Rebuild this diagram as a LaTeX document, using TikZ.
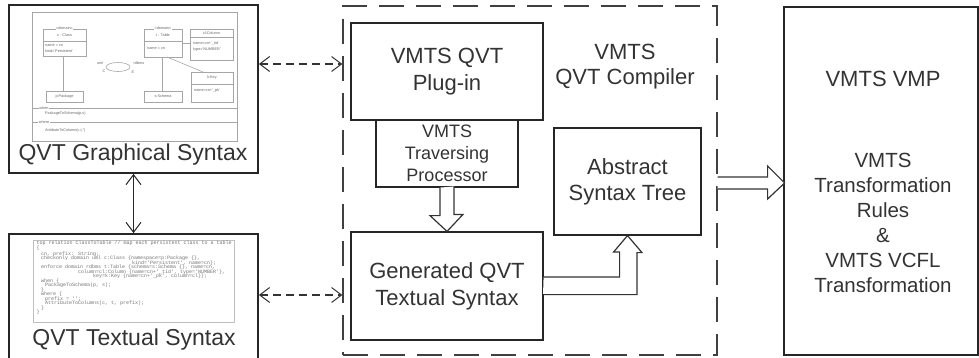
\documentclass[tikz,border=0pt]{standalone}
\usepackage{fontspec}
\setmainfont{Liberation Sans}
\newfontfamily\codefont{Liberation Mono}
\usetikzlibrary{arrows.meta,calc}
\begin{document}
\begin{tikzpicture}[x=1pt,y=-1pt,
  box/.style={draw=black!85, line width=1.2pt, inner sep=0pt, align=center, text=black!80, font=\fontsize{22}{27}\selectfont},
  bigbox/.style={box, line width=1.7pt},
  lbl/.style={inner sep=0pt, align=center, text=black!80, font=\fontsize{22}{27}\selectfont},
  hollow/.style={draw=black!80, line width=1.2pt, fill=white, line join=miter},
  barb/.style={{Straight Barb[length=10pt,width=15pt,line width=1pt]}-{Straight Barb[length=10pt,width=15pt,line width=1pt]}},
  dasharrow/.style={barb, draw=black!80, line width=1.1pt, dash pattern=on 8pt off 5pt},
  solidarrow/.style={barb, draw=black!85, line width=1.3pt},
  thumb/.style={draw=black!35, line width=0.6pt},
  tiny/.style={font=\fontsize{3.8}{4.2}\selectfont, text=black!60, inner sep=0pt},
  code/.style={font=\codefont\fontsize{5}{5}\selectfont, text=black!55, inner sep=0pt, anchor=west}
]
\useasboundingbox (0,0) rectangle (979,358);

% ---------- main boxes ----------
\node[bigbox, minimum width=249pt, minimum height=168pt] (gsyn) at (133.5,89) {};
\node[bigbox, minimum width=249pt, minimum height=136pt] (tsyn) at (133.5,302) {};
\node[box, draw=black!75, dash pattern=on 25pt off 12pt, minimum width=374pt, minimum height=349pt] (comp) at (530,180.5) {};
\node[box, minimum width=192pt, minimum height=97pt] (plugin) at (447,71.5) {VMTS QVT\\Plug-in};
\node[box, minimum width=142pt, minimum height=67pt, font=\fontsize{18}{22}\selectfont] (trav) at (447,153.5) {VMTS\\Traversing\\Processor};
\node[box, minimum width=192pt, minimum height=108pt] (gen) at (447,286) {Generated QVT\\Textual Syntax};
\node[box, minimum width=147pt, minimum height=107pt, font=\fontsize{22}{26}\selectfont] (ast) at (627.5,181.5) {Abstract\\Syntax Tree};
\node[box, minimum width=194pt, minimum height=348pt] (vmp) at (881,181) {};

% ---------- labels ----------
\node[lbl, font=\fontsize{23}{27}\selectfont] (gsynlbl) at (133,155) {QVT Graphical Syntax};
\node[lbl, font=\fontsize{23}{27}\selectfont] (tsynlbl) at (134,340) {QVT Textual Syntax};
\node[lbl, font=\fontsize{22}{25}\selectfont] (complbl) at (625,67) {VMTS\\QVT Compiler};
\node[lbl] (vmptitle) at (883,79) {VMTS VMP};
\node[lbl, font=\fontsize{20.5}{25}\selectfont] (vmpbody) at (883,222.5) {VMTS\\Transformation\\Rules\\\&\\VMTS VCFL\\Transformation};

% ---------- connectors ----------
\coordinate (ya) at (0,64);
\coordinate (yb) at (0,295);
\draw[dasharrow] (gsyn.east |- ya) -- (comp.west |- ya);
\draw[dasharrow] (tsyn.east |- yb) -- (comp.west |- yb);
\draw[solidarrow] (gsyn.south) -- (tsyn.north);

\draw[hollow] ($(trav.south)+(-7,0)$) -- ++(0,28) -- ++(-10,0) -- (gen.north) -- ++(16,-17) -- ++(-9,0) -- ++(0,-28);
\draw[hollow] ($(gen.east)+(0,-9)$) -- ++(76,0) -- ++(0,-25) -- ++(-6,0) -- (ast.south) -- ++(14.5,17) -- ++(-5,0) -- ++(0,42) -- ++(-94,0);
\draw[hollow] ($(comp.east)+(0,-3.5)$) -- ++(50,0) -- ++(0,-11) -- ++(17,17) -- ++(-17,16) -- ++(0,-10) -- ++(-50,0);

% ---------- graphical syntax thumbnail ----------
\draw[thumb] (32,12) rectangle (237,141);
\draw[thumb] (43,29) rectangle (86,56);
\draw[thumb] (43,41) -- (86,41);
\node[tiny, fill=white, inner sep=0.6pt] (cdom) at (64.5,28) {«domain»};
\node[tiny] (cname) at (64.5,35) {c : Class};
\node[tiny, anchor=west] (cattr1) at (45,45) {name = cn};
\node[tiny, anchor=west] (cattr2) at (45,51) {kind='Persistent'};
\draw[thumb] (63,56) -- (63,91);
\node[tiny, draw=black!35, line width=0.6pt, minimum width=37pt, minimum height=11pt] (pkg) at (64.5,96.5) {p:Package};

\node[tiny] (uml) at (100,63) {uml};
\node[tiny] (ucc) at (104,71) {C};
\draw[thumb] (118,67) ellipse [x radius=12, y radius=4.5];
\node[tiny] (rdbms) at (139,63) {rdbms};
\node[tiny] (uee) at (133,72) {E};

\draw[thumb] (144,29) rectangle (182,57);
\draw[thumb] (144,41) -- (182,41);
\node[tiny, fill=white, inner sep=0.6pt] (tdom) at (163,28) {«domain»};
\node[tiny] (tname) at (163,35) {t : Table};
\node[tiny, anchor=west] (tattr) at (147,48) {name = cn};
\draw[thumb] (190,29) rectangle (233,60);
\draw[thumb] (190,37) -- (233,37);
\node[tiny] (clname) at (211.5,33) {cl:Column};
\node[tiny, anchor=west] (clattr1) at (193,44) {name=cn+'\_tid'};
\node[tiny, anchor=west] (clattr2) at (193,50) {type='NUMBER'};
\draw[thumb] (182,43) -- (190,43);
\draw[thumb] (191,72) rectangle (233,102);
\draw[thumb] (191,84) -- (233,84);
\node[tiny] (kname) at (212,78) {k:Key};
\node[tiny, anchor=west] (kattr) at (194,91) {name=cn+'\_pk'};
\draw[thumb] (167,57) -- (203,72);
\draw[thumb] (162,57) -- (162,91);
\node[tiny, draw=black!35, line width=0.6pt, minimum width=38pt, minimum height=11pt] (sch) at (163,96.5) {s:Schema};

\draw[thumb] (32,108) -- (237,108);
\draw[thumb] (32,122) -- (237,122);
\node[tiny, fill=white, inner sep=0.6pt] (when) at (44,108) {when};
\node[tiny, anchor=west] (whenc) at (45,114) {PackageToSchema(p,s)};
\node[tiny, fill=white, inner sep=0.6pt] (where) at (44,122) {where};
\node[tiny, anchor=west] (wherec) at (45,131) {AttributeToColumn(c,t,'')};

% ---------- textual syntax thumbnail ----------
\draw[thumb, draw=black!25, line width=1pt] (33,240) rectangle (234,322);
\node[code] (c1) at (36.5,243.5) {top relation ClassToTable // map each persistent class to a table};
\node[code] (c2) at (36.5,248) {\{};
\node[code] (c3) at (41,254) {cn, prefix: String;};
\node[code] (c4) at (41,258.5) {checkonly domain uml c:Class \{namespace=p:Package \{\},};
\node[code] (c5) at (132,263) {kind='Persistent', name=cn\};};
\node[code] (c6) at (41,267.5) {enforce domain rdbms t:Table \{schema=s:Schema \{\}, name=cn,};
\node[code] (c7) at (78,272) {column=cl:Column \{name=cn+'\_tid', type='NUMBER'\},};
\node[code] (c8) at (93,276.5) {key=k:Key \{name=cn+'\_pk', column=cl\}\};};
\node[code] (c9) at (41,281) {when \{};
\node[code] (c10) at (45,285.5) {PackageToSchema(p, s);};
\node[code] (c11) at (41,290) {\}};
\node[code] (c12) at (41,294.5) {where \{};
\node[code] (c13) at (45,299) {prefix = '';};
\node[code] (c14) at (45,303.5) {AttributeToColumns(c, t, prefix);};
\node[code] (c15) at (41,308) {\}};
\node[code] (c16) at (36.5,312.5) {\}};
\end{tikzpicture}
\end{document}
